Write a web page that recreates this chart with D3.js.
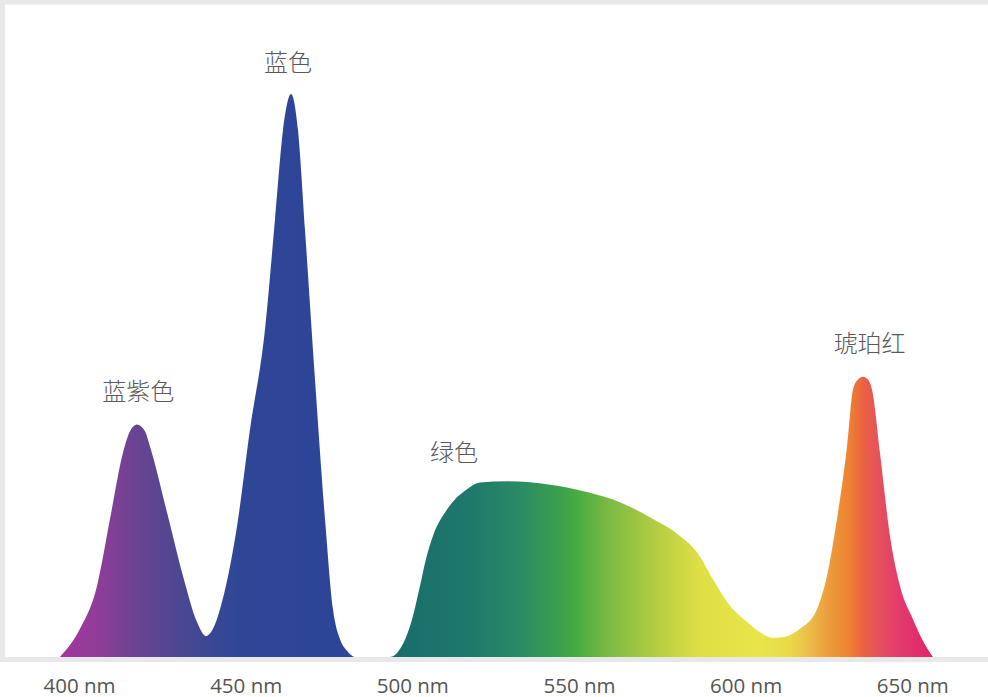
<!DOCTYPE html>
<html>
<head>
<meta charset="utf-8">
<script src="https://cdn.jsdelivr.net/npm/d3@7"></script>
<style>
  body { margin: 0; background: #fff; }
  svg { display: block; }
</style>
</head>
<body>
<svg id="chart" width="988" height="697"></svg>
<script>
// spectrum (nm -> relative intensity, blue peak = 100)
const wavelength = [394.3, 400.3, 405.4, 409.3, 413.2, 415.3, 417.4, 419.8, 421.3, 426.4, 431.2, 435.4, 438.1, 440.2, 442.3,
    447.4, 451.3, 455.8, 458.8, 461.2, 463.6, 465.7, 467.8, 470.8, 473.8, 476.2, 478.3, 480.4, 482.8,
    493.3, 496.3, 500.2, 502.3, 504.1, 506.2, 510.4, 516.4, 520.3, 528.4, 540.4, 552.4, 562.3, 572.2, 580.3, 585.4,
    590.2, 594.4, 600.4, 604.3, 608.2, 612.4, 616.3, 621.4, 624.4, 627.4, 630.4, 632.2, 633.7, 635.2, 636.7, 637.9,
    640.3, 643.3, 646.3, 650.2, 652.9, 656.2];
const intensity = [0, 5.0, 12.6, 24.5, 36.3, 40.1, 41.3, 40.1, 37.4, 25.7, 14.4, 6.2, 3.7, 5.0, 8.5,
    23.2, 40.4, 58.2, 77.7, 93.6, 100, 93.6, 75.9, 49.3, 24.5, 8.5, 3.2, 1.1, 0,
    0, 1.4, 7.3, 12.6, 17.4, 21.5, 26.2, 29.8, 31.0, 31.2, 30.7, 29.3, 27.5, 24.5, 21.5, 18.6,
    13.8, 9.8, 6.2, 4.4, 3.4, 3.7, 5.0, 8.5, 14.4, 24.5, 37.4, 47.5, 49.3, 49.8, 49.3, 47.5,
    36.3, 21.5, 12.6, 6.7, 3.2, 0];

// band labels
const bandNames = ['蓝紫色', '蓝色', '绿色', '琥珀红'];
const bandNm = [417.8, 462.7, 512.5, 637.2];
const bandLevel = [47.2, 105.5, 36.3, 55.7];

const tickNm = [400, 450, 500, 550, 600, 650];

// colour along the spectrum
const gradStops = [
    [394, '#a3379d'], [406, '#8e3d98'], [417, '#6a4491'], [427, '#534692'], [438, '#3c4894'],
    [448, '#2f4697'], [482, '#2d4597'], [488, '#22597f'], [494, '#196c6c'], [517, '#1e786b'],
    [532, '#2a8a66'], [544, '#3b9f4c'], [549, '#44ab40'], [559, '#7cba44'], [574, '#b6cf41'],
    [586, '#dedf45'], [604, '#e8e54a'], [613, '#e9db48'], [619, '#ebbd4a'], [625, '#ec9c3a'],
    [631, '#ee8233'], [635, '#ea6340'], [640, '#e5515f'], [646, '#e33a6a'], [657, '#e1226f']
];

const svg = d3.select('#chart');
const width = 988, height = 697;

const x = d3.scaleLinear().domain([400, 650]).range([79, 912.3]);
const y = d3.scaleLinear().domain([0, 100]).range([657, 94]);

// frame
svg.append('rect').attr('x', 0).attr('y', 0).attr('width', width).attr('height', 4.5).attr('fill', '#e8e8e8');
svg.append('rect').attr('x', 0).attr('y', 0).attr('width', 5).attr('height', 662).attr('fill', '#e8e8e8');

// gradient
const grad = svg.append('defs').append('linearGradient')
    .attr('id', 'spec')
    .attr('gradientUnits', 'userSpaceOnUse')
    .attr('x1', x(394)).attr('x2', x(657))
    .attr('y1', 0).attr('y2', 0);
grad.selectAll('stop')
    .data(gradStops)
    .enter()
    .append('stop')
    .attr('offset', d => (d[0] - 394) / (657 - 394))
    .attr('stop-color', d => d[1]);

const points = wavelength.map((w, i) => [w, intensity[i]]);

const area = d3.area()
    .x(d => x(d[0]))
    .y0(y(0))
    .y1(d => y(d[1]))
    .curve(d3.curveMonotoneX);

svg.append('path')
    .datum(points)
    .attr('d', area)
    .attr('fill', 'url(#spec)');

// baseline
svg.append('rect').attr('x', 0).attr('y', 657).attr('width', width).attr('height', 5).attr('fill', '#e8e8e8');

// axis labels
const axis = d3.axisBottom(x)
    .tickValues(tickNm)
    .tickSize(0)
    .tickPadding(0)
    .tickFormat(d => d + ' nm');
const ax = svg.append('g').attr('transform', 'translate(0,686)').call(axis);
ax.select('.domain').remove();
ax.selectAll('text')
    .attr('dy', '0.35em')
    .style('font-family', '"Open Sans", sans-serif')
    .style('font-size', '20.5px')
    .style('fill', '#555');

// band names
svg.selectAll('text.band')
    .data(bandNames)
    .enter()
    .append('text')
    .attr('class', 'band')
    .attr('x', (d, i) => x(bandNm[i]))
    .attr('y', (d, i) => y(bandLevel[i]))
    .attr('dy', '0.35em')
    .attr('text-anchor', 'middle')
    .style('font-family', '"Noto Sans CJK SC", sans-serif')
    .style('font-weight', 300)
    .style('font-size', '24px')
    .style('fill', '#5a5a5a')
    .text(d => d);
</script>
</body>
</html>
